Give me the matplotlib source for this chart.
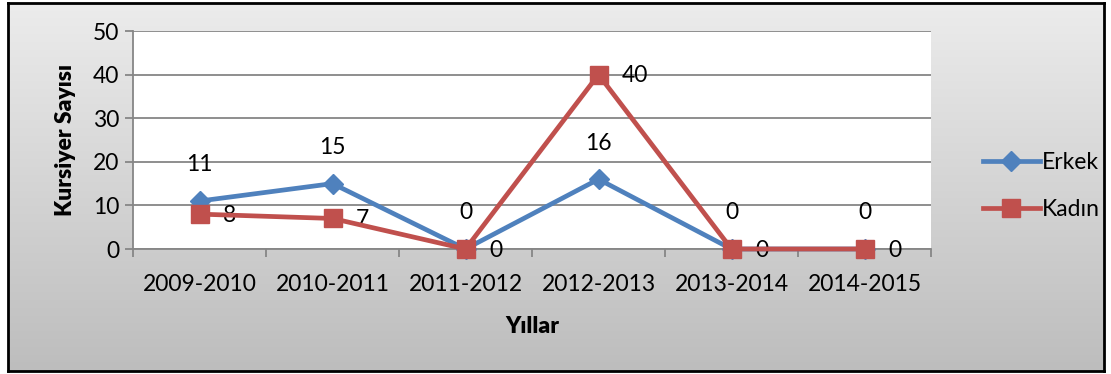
import numpy as np
import matplotlib.pyplot as plt
from matplotlib.colors import LinearSegmentedColormap

plt.rcParams['font.family'] = ['Lato', 'DejaVu Sans']

years = ['2009-2010', '2010-2011', '2011-2012', '2012-2013', '2013-2014', '2014-2015']
erkek = [11, 15, 0, 16, 0, 0]
kadin = [8, 7, 0, 40, 0, 0]

W, H = 1111, 374
fig = plt.figure(figsize=(W / 100, H / 100), dpi=100)
fig.patch.set_facecolor('white')

# grey gradient panel with black frame
x0, y0, x1, y1 = 8, 3, 1104, 371
bg = fig.add_axes([x0 / W, 1 - y1 / H, (x1 - x0) / W, (y1 - y0) / H], zorder=0)
grad = np.linspace(0, 1, 256).reshape(-1, 1)
bg.imshow(grad, aspect='auto', cmap=LinearSegmentedColormap.from_list('g', ['#ececec', '#bdbdbd']),
          extent=[0, 1, 0, 1], origin='upper')
bg.set_xticks([])
bg.set_yticks([])
for s in bg.spines.values():
    s.set_color('black')
    s.set_linewidth(2)

# plot area
px0, py0, px1, py1 = 133, 31, 931, 249
ax = fig.add_axes([px0 / W, 1 - py1 / H, (px1 - px0) / W, (py1 - py0) / H], zorder=1)
ax.set_facecolor('white')
x = np.arange(len(years))

ax.plot(x, erkek, color='#4f81bd', lw=3.4, marker='D', ms=10, label='Erkek', zorder=3, clip_on=False)
ax.plot(x, kadin, color='#c0504d', lw=3.4, marker='s', ms=13, label='Kadın', zorder=4, clip_on=False)

fs = 16.5
for xi, v in zip(x, erkek):
    ax.annotate(str(v), (xi, v), xytext=(0, 26), textcoords='offset points',
                ha='center', va='center', fontsize=fs)
for xi, v in zip(x, kadin):
    ax.annotate(str(v), (xi, v), xytext=(17, -1), textcoords='offset points',
                ha='left', va='center', fontsize=fs)

ax.set_xlim(-0.5, len(years) - 0.5)
ax.set_ylim(0, 50)
ax.set_yticks(range(0, 51, 10))
ax.set_xticks(x)
ax.set_xticklabels(years)
ax.set_xticks(np.arange(-0.5, len(years)), minor=True)
ax.tick_params(axis='x', which='major', length=0, labelsize=fs, pad=18)
ax.tick_params(axis='x', which='minor', length=6, width=1.3, color='#868686')
ax.tick_params(axis='y', length=6, width=1.3, color='#868686', labelsize=fs, pad=4)
ax.grid(axis='y', color='#868686', lw=1.3)
ax.set_axisbelow(True)
for s in ['top', 'right']:
    ax.spines[s].set_visible(False)
for s in ['left', 'bottom']:
    ax.spines[s].set_color('#868686')
    ax.spines[s].set_linewidth(1.3)

ax.set_ylabel('Kursiyer Sayısı', fontsize=fs, fontweight='heavy', labelpad=12)
ax.set_xlabel('Yıllar', fontsize=fs, fontweight='heavy', labelpad=15)

fig.legend(loc='center left', bbox_to_anchor=(962 / W, 1 - 186 / H), frameon=False,
           fontsize=fs, handlelength=2.5, handletextpad=0.1, labelspacing=1.1)

fig.savefig('out.png', dpi=100, facecolor=fig.get_facecolor())
